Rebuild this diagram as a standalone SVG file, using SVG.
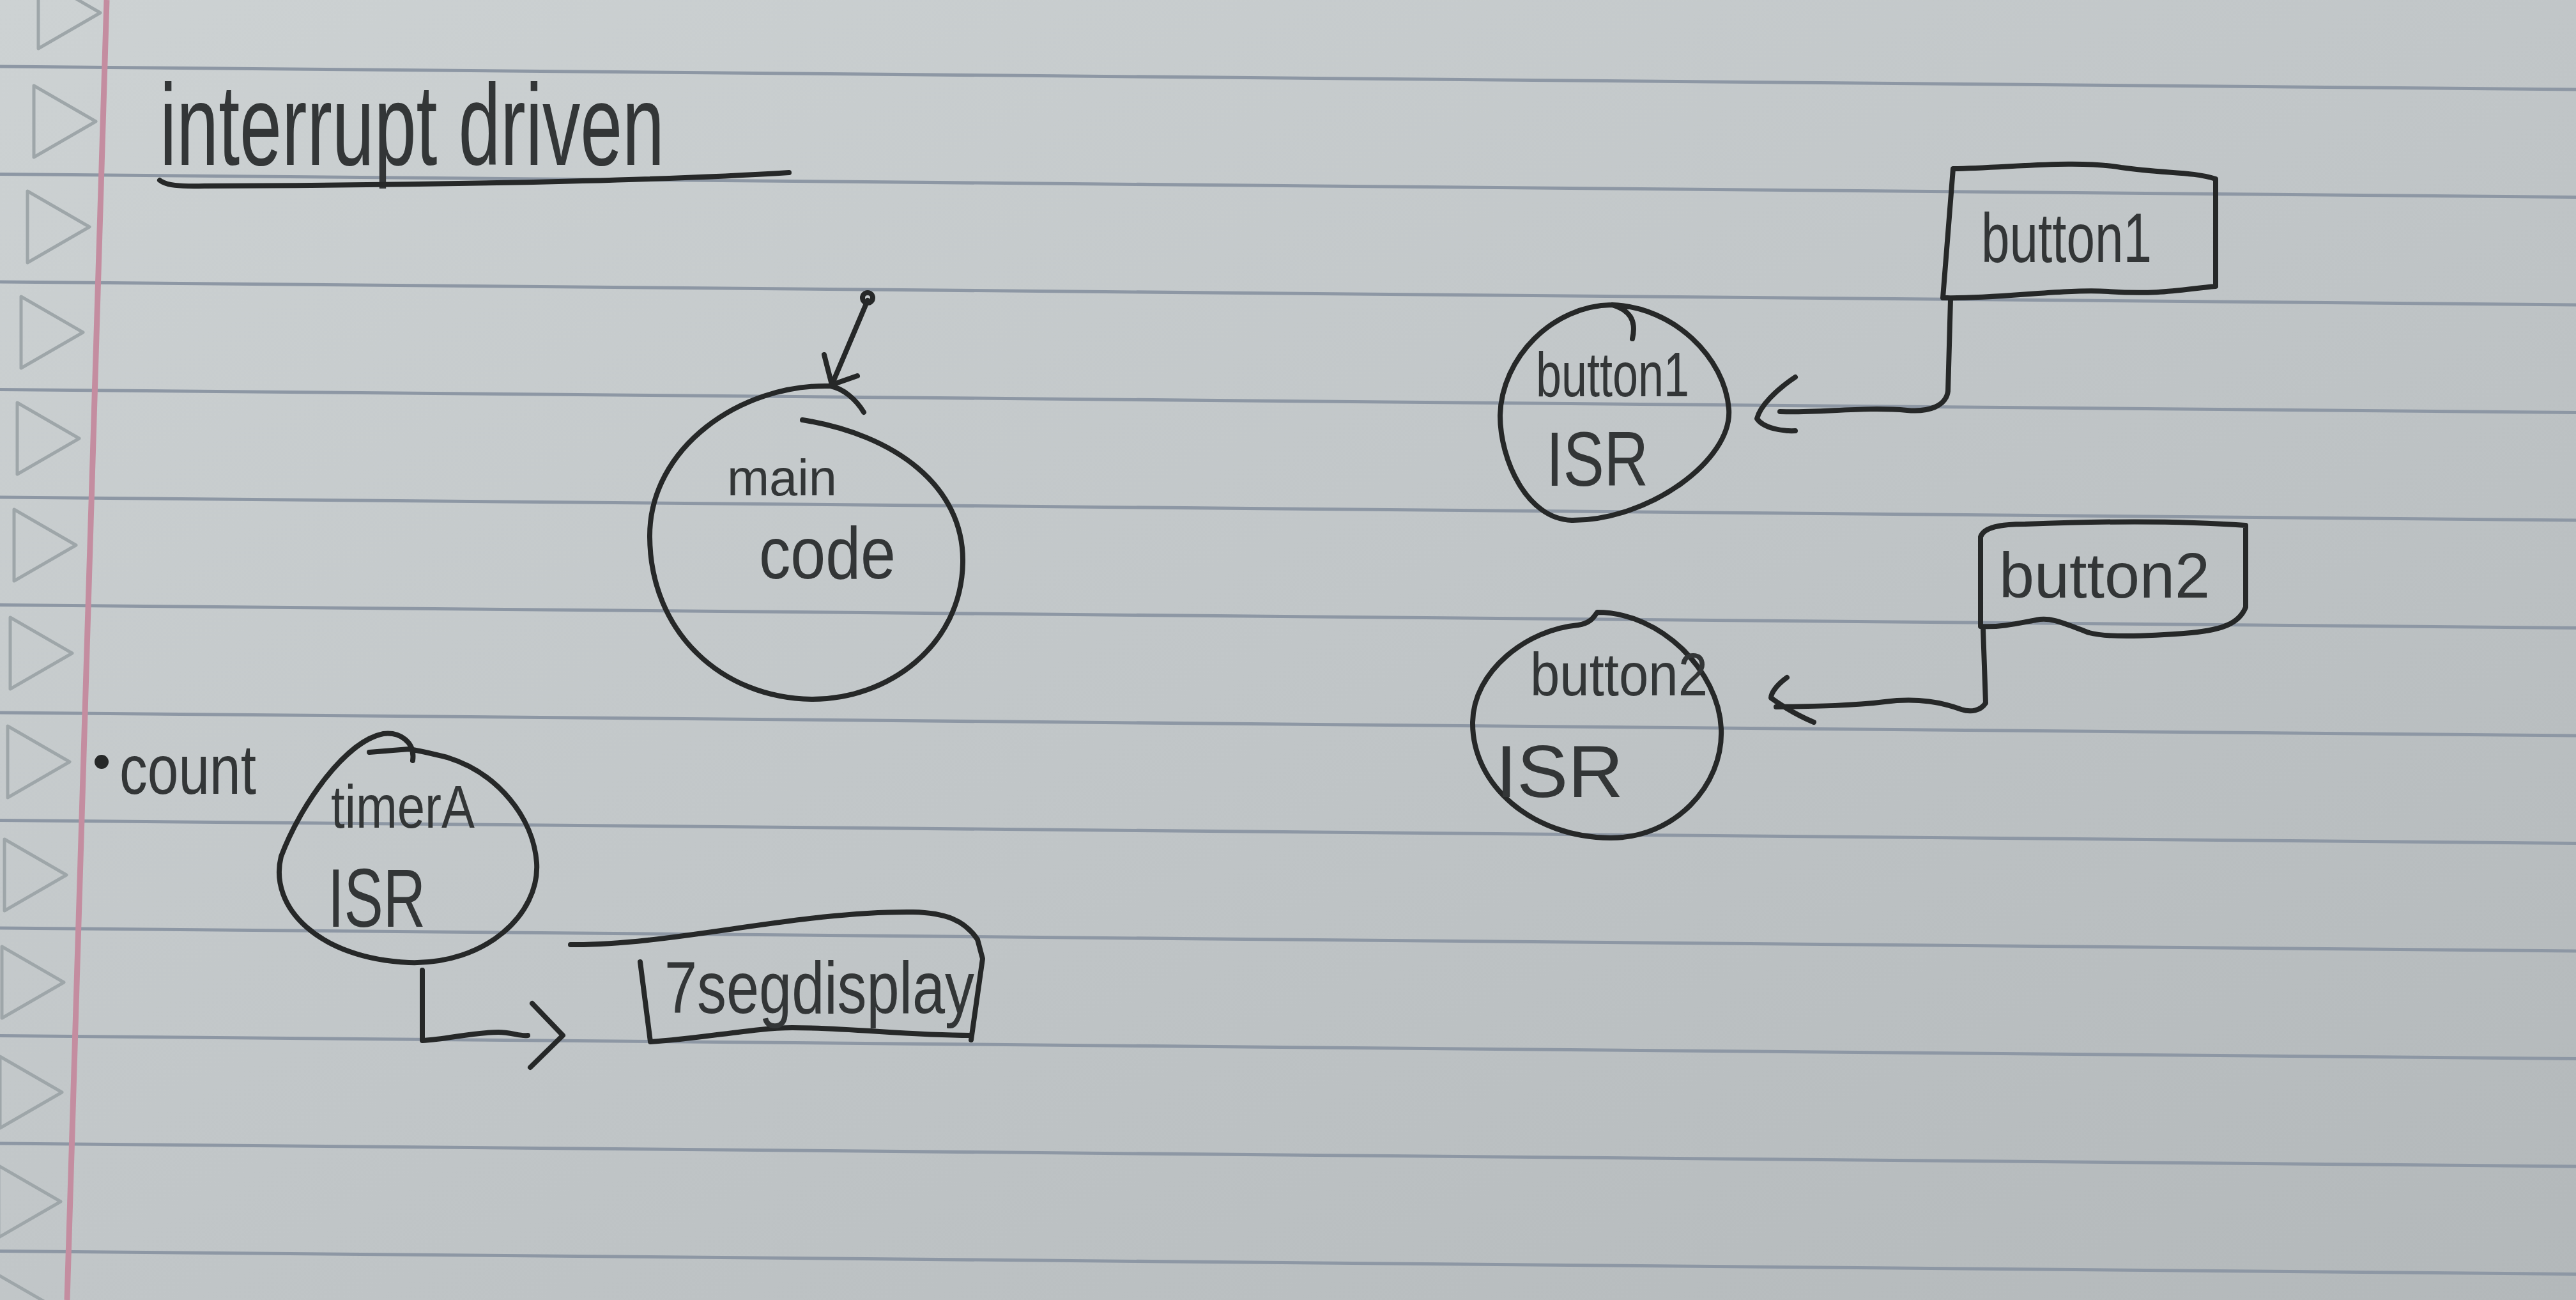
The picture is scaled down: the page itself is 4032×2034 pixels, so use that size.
<svg xmlns="http://www.w3.org/2000/svg" width="4032" height="2034" viewBox="0 0 4032 2034">
<defs>
<linearGradient id="paper" x1="0" y1="0" x2="1" y2="1">
<stop offset="0" stop-color="#cdd2d3"/>
<stop offset="0.5" stop-color="#c1c6c8"/>
<stop offset="1" stop-color="#b3b8ba"/>
</linearGradient>
<style>
.rule{stroke:#8d97a4;stroke-width:5;fill:none}
.tri{stroke:#9ea6a9;stroke-width:5;fill:none;stroke-linejoin:round}
.pen{stroke:#262828;stroke-width:8;fill:none;stroke-linecap:round;stroke-linejoin:round}
.txt{font-family:"Liberation Sans","DejaVu Sans",sans-serif;fill:#333637}
</style>
</defs>
<rect width="4032" height="2034" fill="url(#paper)"/>
<g id="paper-lines">
<line class="rule" x1="0" y1="104" x2="4032" y2="140"/>
<line class="rule" x1="0" y1="272.5" x2="4032" y2="308.5"/>
<line class="rule" x1="0" y1="441" x2="4032" y2="477"/>
<line class="rule" x1="0" y1="609.5" x2="4032" y2="645.5"/>
<line class="rule" x1="0" y1="778" x2="4032" y2="814"/>
<line class="rule" x1="0" y1="946.5" x2="4032" y2="982.5"/>
<line class="rule" x1="0" y1="1115" x2="4032" y2="1151"/>
<line class="rule" x1="0" y1="1283.5" x2="4032" y2="1319.5"/>
<line class="rule" x1="0" y1="1452" x2="4032" y2="1488"/>
<line class="rule" x1="0" y1="1620.5" x2="4032" y2="1656.5"/>
<line class="rule" x1="0" y1="1789" x2="4032" y2="1825"/>
<line class="rule" x1="0" y1="1957.5" x2="4032" y2="1993.5"/>
</g>
<g id="margin">
<polygon class="tri" points="60,-36 157,20 60,76"/>
<polygon class="tri" points="53,134 150,190 53,246"/>
<polygon class="tri" points="43,299 140,355 43,411"/>
<polygon class="tri" points="33,464 130,520 33,576"/>
<polygon class="tri" points="27,630 124,686 27,742"/>
<polygon class="tri" points="22,797 119,853 22,909"/>
<polygon class="tri" points="16,966 113,1022 16,1078"/>
<polygon class="tri" points="12,1136 109,1192 12,1248"/>
<polygon class="tri" points="7,1313 104,1369 7,1425"/>
<polygon class="tri" points="3,1481 100,1537 3,1593"/>
<polygon class="tri" points="0,1653 97,1709 0,1765"/>
<polygon class="tri" points="-2,1824 95,1880 -2,1936"/>
<polygon class="tri" points="-4,1994 93,2050 -4,2106"/>
<path d="M 167 0 Q 140 1000 105 2034" stroke="#c48da0" stroke-width="9" fill="none"/>
</g>
<g id="node-title">
<text class="txt" x="250" y="258" font-size="180" textLength="790" lengthAdjust="spacingAndGlyphs">interrupt driven</text>
<path class="pen" d="M 250 282 C 260 290 280 292 320 291 C 600 290 1000 285 1235 270"/>
</g>
<g id="node-main">
<path class="pen" d="M 1256 657 C 1400 680 1509 760 1507 880 C 1505 1010 1390 1095 1270 1094 C 1130 1092 1018 990 1017 840 C 1016 700 1160 600 1300 604 C 1320 608 1340 625 1352 645"/>
<text class="txt" x="1138" y="775" font-size="80" textLength="172" lengthAdjust="spacingAndGlyphs">main</text>
<text class="txt" x="1188" y="905" font-size="115" textLength="214" lengthAdjust="spacingAndGlyphs">code</text>
</g>
<g id="node-count">
<circle cx="159" cy="1192" r="11" fill="#262828"/>
<text class="txt" x="187" y="1242" font-size="110" textLength="214" lengthAdjust="spacingAndGlyphs">count</text>
</g>
<g id="node-timer-isr">
<path class="pen" d="M 646 1190 C 650 1160 625 1145 600 1148 C 540 1160 470 1260 440 1340 C 420 1420 500 1500 640 1506 C 760 1510 845 1430 840 1350 C 835 1280 780 1210 700 1185 C 680 1180 660 1175 640 1172 L 578 1177"/>
<text class="txt" x="518" y="1295" font-size="95" textLength="225" lengthAdjust="spacingAndGlyphs">timerA</text>
<text class="txt" x="513" y="1450" font-size="130" textLength="153" lengthAdjust="spacingAndGlyphs">ISR</text>
</g>
<g id="node-7seg">
<path class="pen" d="M 893 1478 C 1050 1480 1250 1425 1429 1427 C 1480 1428 1510 1440 1530 1470 L 1538 1500 L 1520 1627"/>
<path class="pen" d="M 1002 1505 L 1018 1630 C 1100 1625 1180 1608 1240 1608 C 1330 1608 1420 1620 1519 1620"/>
<text class="txt" x="1040" y="1585" font-size="115" textLength="485" lengthAdjust="spacingAndGlyphs">7segdisplay</text>
</g>
<g id="node-button1">
<path class="pen" d="M 3057 264 C 3150 262 3250 250 3320 262 C 3390 272 3430 268 3468 280 L 3468 448 C 3420 452 3380 462 3300 456 C 3220 452 3130 468 3041 466 Z"/>
<text class="txt" x="3101" y="410" font-size="110" textLength="267" lengthAdjust="spacingAndGlyphs">button1</text>
</g>
<g id="node-button1-isr">
<path class="pen" d="M 2523 477 C 2620 480 2700 560 2706 640 C 2712 720 2580 815 2460 814 C 2390 812 2348 720 2348 650 C 2350 560 2430 478 2523 477 C 2550 485 2562 500 2555 530"/>
<text class="txt" x="2404" y="620" font-size="98" textLength="240" lengthAdjust="spacingAndGlyphs">button1</text>
<text class="txt" x="2420" y="760" font-size="120" textLength="160" lengthAdjust="spacingAndGlyphs">ISR</text>
</g>
<g id="node-button2">
<path class="pen" d="M 3100 840 C 3105 825 3130 820 3170 820 C 3300 815 3420 815 3515 822 L 3515 950 C 3505 975 3480 985 3430 990 C 3370 995 3300 998 3270 990 C 3230 975 3210 965 3187 970 C 3160 975 3130 982 3100 980 Z"/>
<text class="txt" x="3129" y="935" font-size="100" textLength="330" lengthAdjust="spacingAndGlyphs">button2</text>
</g>
<g id="node-button2-isr">
<path class="pen" d="M 2470 978 C 2490 975 2495 965 2500 958 C 2600 958 2690 1050 2694 1140 C 2698 1230 2620 1312 2520 1311 C 2400 1310 2304 1230 2305 1130 C 2306 1050 2390 985 2470 978"/>
<text class="txt" x="2395" y="1088" font-size="95" textLength="278" lengthAdjust="spacingAndGlyphs">button2</text>
<text class="txt" x="2341" y="1247" font-size="115" textLength="200" lengthAdjust="spacingAndGlyphs">ISR</text>
</g>
<g id="connectors">
<path class="pen" d="M 1358 470 L 1302 602"/>
<circle class="pen" cx="1358" cy="466" r="8"/>
<path class="pen" d="M 1290 555 L 1302 602 L 1342 588"/>
<path class="pen" d="M 661 1518 L 661 1628 C 700 1626 740 1615 780 1615 C 800 1615 815 1622 826 1620"/>
<path class="pen" d="M 833 1570 L 881 1620 L 830 1670"/>
<path class="pen" d="M 3053 469 L 3049 612 C 3046 635 3020 645 2985 642 C 2920 636 2850 646 2786 644"/>
<path class="pen" d="M 2810 590 C 2780 610 2755 635 2750 655 C 2760 670 2790 675 2810 674"/>
<path class="pen" d="M 3104 985 L 3108 1100 C 3100 1112 3085 1115 3070 1110 C 3030 1095 2990 1093 2950 1098 C 2900 1104 2850 1105 2780 1106"/>
<path class="pen" d="M 2797 1060 C 2780 1072 2772 1085 2772 1092 C 2790 1105 2815 1120 2839 1130"/>
</g>
</svg>
